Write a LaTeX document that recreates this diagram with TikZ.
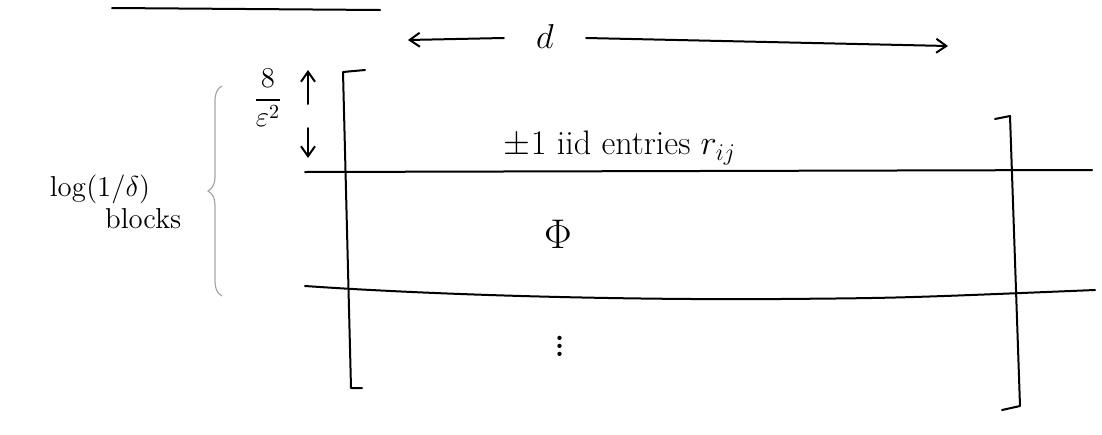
\documentclass[tikz,border=0pt]{standalone}
\usepackage{amsmath,amssymb}
\usetikzlibrary{arrows.meta,decorations.pathreplacing,positioning}

\begin{document}
\begin{tikzpicture}[
    x=0.5pt, y=-0.5pt,
    pen/.style={line width=1pt, line cap=round, line join=round},
    lbl/.style={font=\fontsize{17}{20}\selectfont, inner sep=1pt},
    sidelbl/.style={font=\Large, inner sep=1pt, align=center},
    barb/.style={pen, -{Straight Barb[length=5pt, width=7pt]}}
]
\useasboundingbox (0,0) rectangle (1102,434);

% top stroke
\draw[pen] (112,8) -- (380,10);

% width d
\node[lbl] (dlab) at (545,36) {$d$};
\coordinate (dleft)  at (408,40);
\coordinate (dright) at (948,46);
\draw[barb] (dlab.west) ++(-30,2) -- (dleft);
\draw[barb] (dlab.east) ++(30,2) -- (dright);

% brackets of the matrix
\draw[pen] (365,70) -- (343,72) -- (351,388) -- (362,388);
\draw[pen] (995,119) -- (1010,116) -- (1020,406) -- (1002,410);

% block rows
\draw[pen] (305,172) -- (1092,170);
\draw[pen] (305,286) .. controls (450,296) and (640,300) .. (780,299)
           .. controls (900,298) .. (1095,290);

% row contents
\node[lbl] (rows)  at (620,148) {$\pm 1$ iid entries $r_{ij}$};
\node[lbl, font=\fontsize{22}{24}\selectfont] (phi) at (558,234) {$\Phi$};
\node[lbl, font=\fontsize{26}{28}\selectfont] (vdots) at (560,340) {$\vdots$};

% block height
\node[sidelbl] (hgt) at (268,98) {$\dfrac{8}{\varepsilon^2}$};
\coordinate (hup)   at (308,70);
\coordinate (hdown) at (308,158);
\draw[barb] (308,104) -- (hup);
\draw[barb] (308,128) -- (hdown);

% number of blocks
\draw[gray!70, line width=0.6pt, decorate, decoration={brace, amplitude=7pt}]
    (222,296) -- (222,86);
\node[sidelbl] (nblk) at (100,202) {$\log(1/\delta)$\\[-2pt]\hspace*{3em}blocks};
\end{tikzpicture}
\end{document}
